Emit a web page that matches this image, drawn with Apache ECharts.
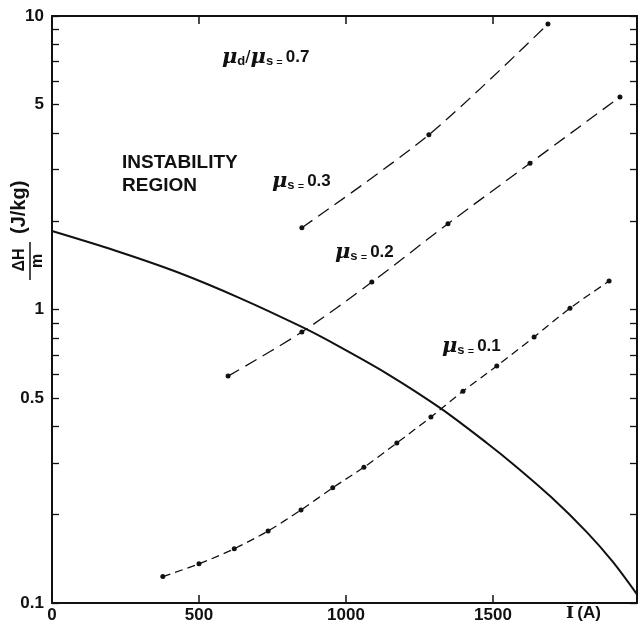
<!DOCTYPE html>
<html>
<head>
<meta charset="utf-8">
<script src="https://cdn.jsdelivr.net/npm/echarts@6/dist/echarts.min.js"></script>
<style>
  html, body { margin: 0; padding: 0; background: #fff; }
  #chart { width: 639px; height: 627px; }
</style>
</head>
<body>
<div id="chart"></div>
<script>
// current I (A) and ΔH/m (J/kg)
const solidI = [0, 214, 425, 639, 850, 979, 1139, 1320, 1479, 1571, 1697, 1820, 1908, 1990];
const solidH = [1.851, 1.589, 1.342, 1.094, 0.872, 0.746, 0.605, 0.462, 0.351, 0.296, 0.230, 0.174, 0.138, 0.107];

const mu03I = [850, 1282, 1687];
const mu03H = [1.90, 3.94, 9.39];

const mu02I = [599, 850, 1088, 1347, 1626, 1932];
const mu02H = [0.593, 0.838, 1.24, 1.96, 3.15, 5.30];

const mu01I = [377, 500, 620, 735, 847, 955, 1061, 1173, 1289, 1398, 1513, 1640, 1762, 1895];
const mu01H = [0.123, 0.136, 0.153, 0.176, 0.2075, 0.247, 0.290, 0.351, 0.430, 0.527, 0.642, 0.806, 1.01, 1.25];

const xLabels = [0, 500, 1000, 1500];
const yLabels = [0.1, 0.5, 1, 5, 10];
const yTicks = [0.1, 0.2, 0.3, 0.4, 0.5, 0.6, 0.7, 0.8, 0.9, 1, 2, 3, 4, 5, 6, 7, 8, 9, 10];

function zip(xs, ys) {
  return xs.map((x, i) => [x, ys[i]]);
}

const ink = "#111";
const font = "Liberation Sans, Arial, sans-serif";

var myChart = echarts.init(document.getElementById("chart"));

const xBase = {
  type: "value",
  min: 0,
  max: 1990,
  interval: 500,
  splitLine: { show: false },
  axisLine: { onZero: false, lineStyle: { color: ink, width: 2 } },
  axisTick: { inside: true, length: 8, lineStyle: { color: ink, width: 1.5 } },
};

const yBase = {
  type: "log",
  logBase: 10,
  min: 0.1,
  max: 10,
  splitLine: { show: false },
  axisLine: { onZero: false, lineStyle: { color: ink, width: 2 } },
  axisTick: {
    inside: true,
    length: 7,
    customValues: yTicks,
    lineStyle: { color: ink, width: 1.3 },
  },
};

const muRich = {
  mu: { fontFamily: "DejaVu Serif", fontStyle: "italic", fontWeight: "bold", fontSize: 21, fill: ink },
  sub: { fontFamily: font, fontWeight: "bold", fontSize: 13, fill: ink, verticalAlign: "bottom", padding: [6, 0, 0, 0] },
  sl: { fontFamily: font, fontSize: 19, fill: ink },
  eq: { fontFamily: font, fontSize: 11, fill: ink, verticalAlign: "bottom" },
  num: { fontFamily: font, fontWeight: "bold", fontSize: 17, fill: ink },
};

function muLabel(sub, val, x, y) {
  return {
    type: "text",
    left: x,
    top: y,
    style: {
      text: "{mu|μ}{sub|" + sub + "}{eq| = }{num|" + val + "}",
      rich: muRich,
    },
  };
}

const dashedLine = (name, data, dash) => ({
  name: name,
  type: "line",
  data: data,
  smooth: 0.3,
  symbol: "circle",
  symbolSize: 5,
  itemStyle: { color: ink },
  lineStyle: { color: ink, width: 1.3, type: dash },
  z: 3,
});

myChart.setOption({
  animation: false,
  backgroundColor: "#fff",
  grid: { left: 52, top: 16, width: 585, height: 587 },
  xAxis: [
    Object.assign({}, xBase, {
      position: "bottom",
      axisLabel: {
        customValues: xLabels,
        formatter: (v) => String(v),
        color: ink,
        fontFamily: font,
        fontWeight: "bold",
        fontSize: 17,
        margin: 4,
      },
    }),
    Object.assign({}, xBase, { position: "top", axisLabel: { show: false } }),
  ],
  yAxis: [
    Object.assign({}, yBase, {
      position: "left",
      axisLabel: {
        customValues: yLabels,
        formatter: (v) => String(v),
        color: ink,
        fontFamily: font,
        fontWeight: "bold",
        fontSize: 17,
        margin: 8,
      },
    }),
    Object.assign({}, yBase, { position: "right", axisLabel: { show: false } }),
  ],
  series: [
    {
      name: "limit",
      type: "line",
      data: zip(solidI, solidH),
      smooth: 0.3,
      showSymbol: false,
      symbol: "none",
      lineStyle: { color: ink, width: 2 },
    },
    dashedLine("mu 0.3", zip(mu03I, mu03H), [13, 7]),
    dashedLine("mu 0.2", zip(mu02I, mu02H), [13, 7]),
    dashedLine("mu 0.1", zip(mu01I, mu01H), [8, 5]),
  ],
  graphic: [
    {
      type: "text",
      left: 222,
      top: 47,
      style: {
        text: "{mu|μ}{sub|d}{sl|/}{mu|μ}{sub|s}{eq| = }{num|0.7}",
        rich: muRich,
      },
    },
    {
      type: "text",
      left: 122,
      top: 151,
      style: {
        text: "INSTABILITY\nREGION",
        align: "center",
        fontFamily: font,
        fontWeight: "bold",
        fontSize: 19,
        lineHeight: 23,
        fill: ink,
      },
    },
    muLabel("s", "0.3", 272, 171),
    muLabel("s", "0.2", 335, 242),
    muLabel("s", "0.1", 442, 336),
    {
      type: "text",
      left: 566,
      top: 605,
      style: {
        text: "{i|I} {a|(A)}",
        rich: {
          i: { fontFamily: "DejaVu Serif", fontWeight: "bold", fontSize: 17, fill: ink },
          a: { fontFamily: font, fontWeight: "bold", fontSize: 17, fill: ink },
        },
      },
    },
    {
      type: "group",
      x: 30,
      y: 280,
      rotation: Math.PI / 2,
      children: [
        { type: "line", shape: { x1: 0, y1: 0, x2: 38, y2: 0 }, style: { stroke: ink, lineWidth: 1.5 } },
        {
          type: "text",
          x: 20,
          y: -10,
          style: { text: "ΔH", align: "center", verticalAlign: "middle", fontFamily: font, fontWeight: "bold", fontSize: 16, fill: ink },
        },
        {
          type: "text",
          x: 19,
          y: 8,
          style: { text: "m", align: "center", verticalAlign: "middle", fontFamily: font, fontWeight: "bold", fontSize: 16, fill: ink },
        },
        {
          type: "text",
          x: 46,
          y: -11,
          style: { text: "(J/kg)", align: "left", verticalAlign: "middle", fontFamily: font, fontWeight: "bold", fontSize: 20, fill: ink },
        },
      ],
    },
  ],
});

window.addEventListener("resize", () => {
  myChart.resize();
});
</script>
</body>
</html>
